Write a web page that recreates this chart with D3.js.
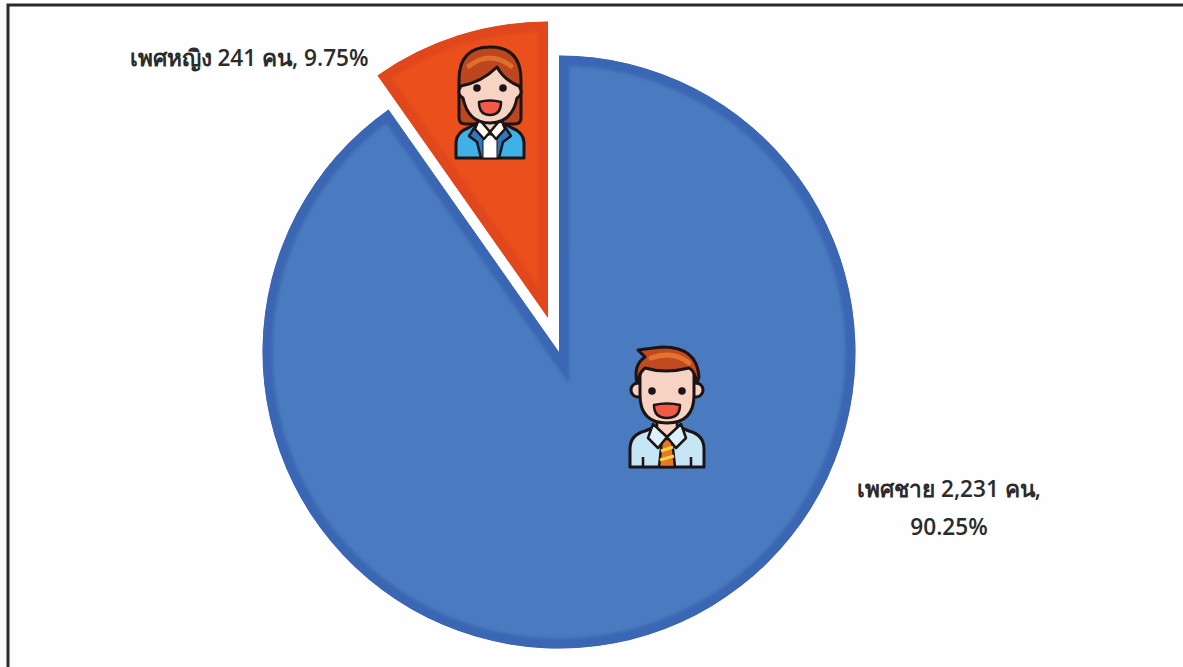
<!DOCTYPE html>
<html><head><meta charset="utf-8">
<script src="https://cdn.jsdelivr.net/npm/d3@7/dist/d3.min.js"></script>
<style>html,body{margin:0;padding:0;background:#fefefe}svg{display:block}
text{font-family:"Open Sans","Noto Sans","DejaVu Sans",sans-serif;font-size:22.6px;fill:#2b2b2b;font-weight:600}</style>
</head><body><svg id="c" width="1183" height="667"></svg>
<script>
const categories=["เพศชาย","เพศหญิง"];
const counts=[2231,241];
const percentLabels=["90.25%","9.75%"];
const countLabels=["2,231","241"];
const W=1183,H=667;
const svg=d3.select("#c");
svg.append("rect").attr("width",W).attr("height",H).attr("fill","#fefefe");
svg.append("path").attr("d",d3.line()([[8,H],[8,5],[W,5]])).attr("fill","none").attr("stroke","#2a2a2a").attr("stroke-width",3);
const radius=296.5;
const pie=d3.pie().sort(null).value(d=>d).startAngle(0);
const arcs=pie(counts);
const arc=d3.arc().innerRadius(0).outerRadius(radius);
const fills=["#4a7abf","#ea4f1c"],strokes=["#3a66b3","#e0471a"];
const centers=[[559,352],[548,318]];
const defs=svg.append("defs");
defs.append("filter").attr("id","soft").attr("x","-5%").attr("y","-5%").attr("width","110%").attr("height","110%")
  .append("feGaussianBlur").attr("stdDeviation",1.6);
arcs.forEach((a,i)=>{
  defs.append("clipPath").attr("id","cl"+i).append("path").attr("d",arc(a));
  const g=svg.append("g").attr("transform",`translate(${centers[i]})`).attr("clip-path",`url(#cl${i})`);
  g.append("path").attr("d",arc(a)).attr("fill",fills[i]);
  g.append("path").attr("d",arc(a)).attr("fill","none").attr("stroke",strokes[i])
   .attr("stroke-width",20).attr("filter","url(#soft)");
});
const ink="#1c1414",skin="#f6d3c2";
function man(x,y){
  const g=svg.append("g").attr("transform",`translate(${x},${y})`).attr("stroke",ink).attr("stroke-width",3).attr("stroke-linejoin","round");
  g.append("path").attr("d","M-37 60 V42 Q-37 28 -22 24 L-12 20 H12 L22 24 Q37 28 37 42 V60 Z").attr("fill","#c6e6f6");
  g.append("path").attr("d","M-24 60 V50 M24 60 V50").attr("fill","none").attr("stroke-width",2.5);
  g.append("path").attr("d","M-10 8 H10 V22 L0 30 L-10 22 Z").attr("fill",skin).attr("stroke-width",2.5);
  g.append("path").attr("d","M-5 32 H5 L8 60 H-8 Z").attr("fill","#e8772a").attr("stroke-width",2.5);
  g.append("path").attr("d","M-6 44 L6 40 M-7 53 L7 49").attr("stroke","#f4d43a").attr("stroke-width",3).attr("fill","none");
  g.append("path").attr("d","M-14 17 L0 30 L-9 41 L-19 31 Z M14 17 L0 30 L9 41 L19 31 Z").attr("fill","#dcf1fb").attr("stroke-width",2.5);
  g.append("circle").attr("cx",-29).attr("cy",-17).attr("r",7).attr("fill",skin);
  g.append("circle").attr("cx",29).attr("cy",-17).attr("r",7).attr("fill",skin);
  g.append("path").attr("d","M-27 -40 V-12 Q-27 16 0 16 Q27 16 27 -12 V-40 Z").attr("fill",skin);
  g.append("path").attr("d","M-30 -24 Q-34 -42 -22 -50 Q-26 -54 -29 -57 Q-14 -59 -4 -60 Q30 -60 32 -30 L30 -24 Q28 -36 22 -39 Q-2 -33 -22 -39 Q-28 -34 -30 -24 Z").attr("fill","#c24a20");
  g.append("path").attr("d","M-16 -49 Q6 -57 22 -44").attr("stroke","#e3742e").attr("stroke-width",5).attr("fill","none").attr("stroke-linecap","round");
  face(g,15,-16,-2,11,13);
}
function woman(x,y){
  const g=svg.append("g").attr("transform",`translate(${x},${y})`).attr("stroke",ink).attr("stroke-width",3).attr("stroke-linejoin","round");
  g.append("path").attr("d","M-31 -22 Q-31 -55 0 -55 Q31 -55 31 -22 V16 Q31 22 24 22 H-24 Q-31 22 -31 16 Z").attr("fill","#bb4620");
  g.append("path").attr("d","M-34 56 V40 Q-33 30 -22 26 L-11 20 H11 L22 26 Q33 30 34 40 V56 Z").attr("fill","#3fb0e8");
  g.append("path").attr("d","M-12 20 L-21 34 L-13 40 L-9 56 H9 L13 40 L21 34 L12 20 Z").attr("fill","#2f78bd").attr("stroke-width",2.5);
  g.append("path").attr("d","M-7 33 H7 V56 H-7 Z").attr("fill","#ffffff").attr("stroke-width",1);
  g.append("path").attr("d","M-8 14 H8 V22 L0 30 L-8 22 Z").attr("fill",skin).attr("stroke-width",2);
  g.append("path").attr("d","M-11 17 L0 30 L-6 37 L-15 27 Z M11 17 L0 30 L6 37 L15 27 Z").attr("fill","#fffdf6").attr("stroke-width",2.5);
  g.append("path").attr("d","M-29 -16 Q-34 -8 -27 -4 Q-22 21 0 21 Q22 21 27 -4 Q34 -8 29 -16 Q14 -22 7 -35 Q-8 -20 -29 -16 Z").attr("fill",skin);
  g.append("path").attr("d","M-21 -36 Q0 -52 21 -36").attr("stroke","#df6f2a").attr("stroke-width",5).attr("fill","none").attr("stroke-linecap","round");
  face(g,13,-14,0,13,11);
}
function face(g,dx,eyeY,mTop,mBot,mw){
  g.append("circle").attr("cx",-dx).attr("cy",eyeY).attr("r",3.8).attr("fill",ink).attr("stroke","none");
  g.append("circle").attr("cx",dx).attr("cy",eyeY).attr("r",3.8).attr("fill",ink).attr("stroke","none");
  g.append("path").attr("d",`M${-mw} ${mTop} Q0 ${mTop-3} ${mw} ${mTop} Q${mw} ${mBot} 0 ${mBot} Q${-mw} ${mBot} ${-mw} ${mTop} Z`).attr("fill","#f25a48").attr("stroke-width",2.5);
}
man(667,407);
woman(490,102);
svg.append("text").attr("x",949).attr("y",497).attr("text-anchor","middle").text(`${categories[0]} ${countLabels[0]} คน,`);
svg.append("text").attr("x",949).attr("y",535).attr("text-anchor","middle").text(percentLabels[0]);
svg.append("text").attr("x",249).attr("y",66).attr("text-anchor","middle").text(`${categories[1]} ${countLabels[1]} คน, ${percentLabels[1]}`);
</script></body></html>
